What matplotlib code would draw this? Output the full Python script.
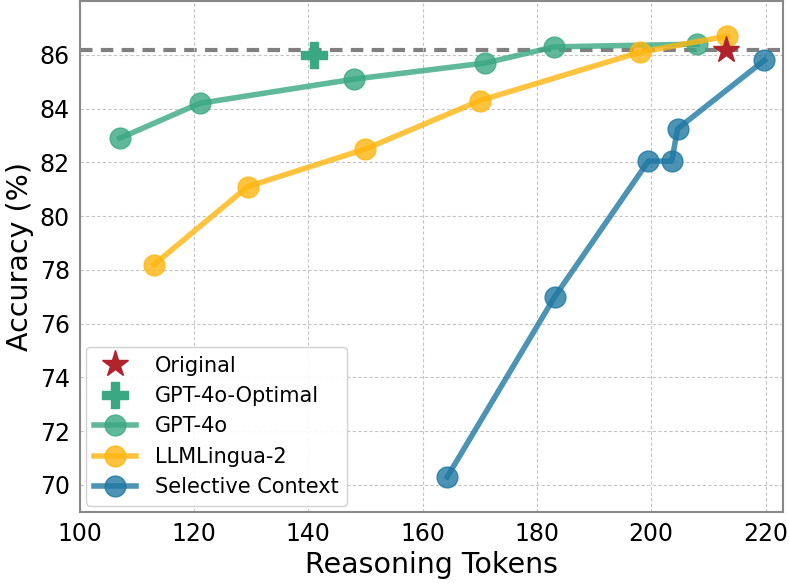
import matplotlib.pyplot as plt

# values
gpt_x = [107, 121, 148, 171, 183, 208]
gpt_y = [82.9, 84.2, 85.1, 85.7, 86.3, 86.4]

lingua_x = [113, 129.4, 150, 170, 198, 213.3]
lingua_y = [78.2, 81.1, 82.5, 84.3, 86.1, 86.7]

sc_x = [164.3, 183.1, 199.5, 203.6, 204.6, 219.8]
sc_y = [70.3, 77.0, 82.05, 82.05, 83.25, 85.8]

orig_x, orig_y = 213, 86.2
opt_x, opt_y = 141, 86.0

fig, ax = plt.subplots(figsize=(7.89, 5.83), dpi=100)

ax.axhline(orig_y, color="grey", ls="--", lw=3, dashes=(3, 2), zorder=1)

ax.plot(orig_x, orig_y, marker="*", ms=20, color="#b0232d", ls="none",
        label="Original", zorder=6)
ax.plot(opt_x, opt_y, marker="P", ms=19, color="#3aa882", ls="none",
        label="GPT-4o-Optimal", zorder=6)
ax.plot(gpt_x, gpt_y, marker="o", ms=15, lw=4, color="#3aa882", alpha=0.8,
        label="GPT-4o", zorder=3)
ax.plot(lingua_x, lingua_y, marker="o", ms=15, lw=4, color="#ffb60f", alpha=0.8,
        label="LLMLingua-2", zorder=4)
ax.plot(sc_x, sc_y, marker="o", ms=15, lw=4, color="#1f78a2", alpha=0.8,
        label="Selective Context", zorder=5)

ax.set_xlim(100, 223)
ax.set_ylim(69, 88)
ax.set_xticks(range(100, 221, 20))
ax.set_yticks(range(70, 87, 2))
ax.tick_params(labelsize=17, length=0, pad=7)
ax.grid(True, ls=(0, (3, 2)), color="#c4c4c4", lw=0.8)
for s in ax.spines.values():
    s.set_color("#888888")
    s.set_linewidth(1.5)

ax.set_xlabel("Reasoning Tokens", fontsize=20.5)
ax.set_ylabel("Accuracy (%)", fontsize=20.5)

ax.legend(loc="lower left", fontsize=15, borderaxespad=0.3, handlelength=2.0,
          labelspacing=0.5, handletextpad=0.9, framealpha=0.9)

fig.subplots_adjust(left=0.101, right=0.992, top=0.998, bottom=0.122)
fig.savefig("out.png")
